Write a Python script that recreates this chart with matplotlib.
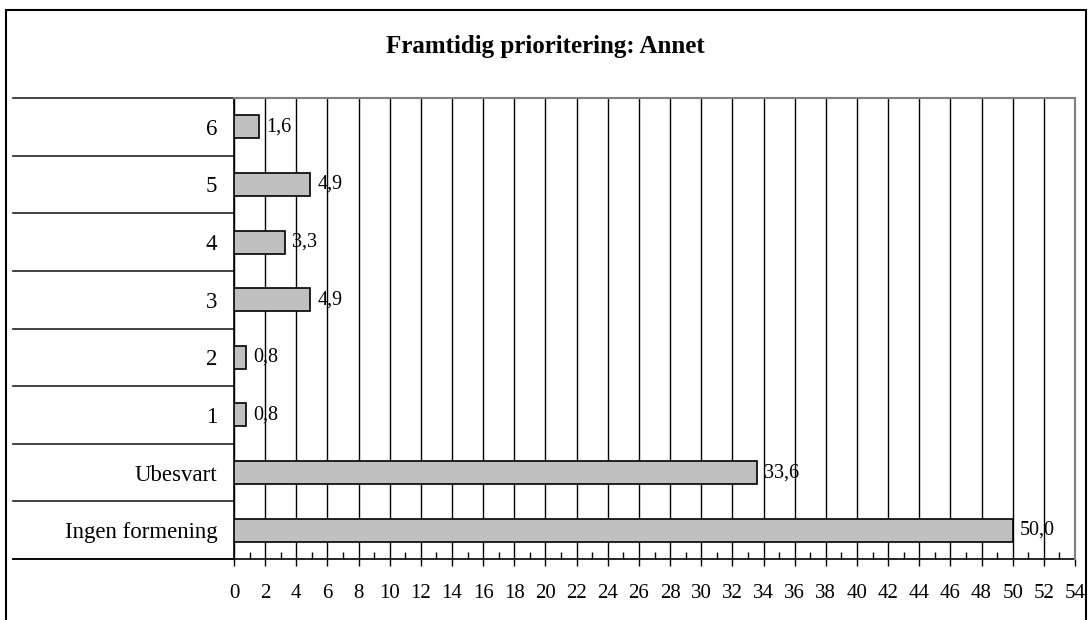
import matplotlib
matplotlib.use("Agg")
import matplotlib.pyplot as plt
from matplotlib.patches import Rectangle
from matplotlib.lines import Line2D
from matplotlib.ticker import MultipleLocator

categories = ["6", "5", "4", "3", "2", "1", "Ubesvart", "Ingen formening"]
values = [1.6, 4.9, 3.3, 4.9, 0.8, 0.8, 33.6, 50.0]
value_labels = ["1,6", "4,9", "3,3", "4,9", "0,8", "0,8", "33,6", "50,0"]
x_ticks = list(range(0, 55, 2))
title = "Framtidig prioritering: Annet"

plt.rcParams["font.family"] = ["Liberation Serif", "DejaVu Serif"]

W, H = 1089, 620
fig = plt.figure(figsize=(W / 100, H / 100), dpi=100)

left, right, top, bottom = 234, 1075, 98, 559
ax = fig.add_axes([left / W, 1 - bottom / H, (right - left) / W, (bottom - top) / H])

pos = list(range(len(categories)))
ax.barh(pos, values, height=0.4, color="#c0c0c0", edgecolor="black",
        linewidth=1.2, zorder=3)

ax.set_xlim(0, 54)
ax.set_ylim(len(categories) - 0.5, -0.5)

# data labels
for p, v, lab in zip(pos, values, value_labels):
    ax.annotate(lab, xy=(v, p), xytext=(5, 0), textcoords="offset points",
                va="center", ha="left", fontsize=14.5, zorder=4)

# x axis
ax.set_xticks(x_ticks)
ax.set_xticklabels([str(t) for t in x_ticks], fontsize=15)
ax.xaxis.set_minor_locator(MultipleLocator(1))
ax.tick_params(axis="x", which="major", direction="out", length=5, width=1,
               pad=13, color="black")
ax.tick_params(axis="x", which="minor", direction="in", length=5, width=1,
               color="black")
ax.grid(axis="x", which="major", color="black", linewidth=1, zorder=1)

# category axis
ax.set_yticks(pos)
ax.set_yticklabels(categories, fontsize=16.5)
ax.tick_params(axis="y", length=0, pad=12)

for side in ["top", "right"]:
    ax.spines[side].set_color("#808080")
    ax.spines[side].set_linewidth(1.5)
    ax.spines[side].set_zorder(5)
for side in ["left", "bottom"]:
    ax.spines[side].set_color("black")
    ax.spines[side].set_linewidth(1.2)

# separator lines across the label column
x_start = (13 - left) / (right - left)
for k in range(len(categories) + 1):
    yb = k - 0.5
    ax.add_line(Line2D([x_start, 0], [yb, yb], color="#222222", linewidth=1.2,
                       transform=ax.get_yaxis_transform(), clip_on=False))
ax.add_line(Line2D([x_start, 0], [len(categories) - 0.5] * 2, color="black",
                   linewidth=1.2, transform=ax.get_yaxis_transform(),
                   clip_on=False))

fig.text(545 / W, 1 - 46 / H, title, ha="center", va="center",
         fontsize=18, fontweight="bold")

# outer frame
fig.patches.append(Rectangle((6 / W, -0.02), (1086 - 6) / W, 1 - 9.5 / H + 0.02,
                             transform=fig.transFigure, fill=False,
                             edgecolor="black", linewidth=1.5))

fig.savefig("out.png", dpi=100)
